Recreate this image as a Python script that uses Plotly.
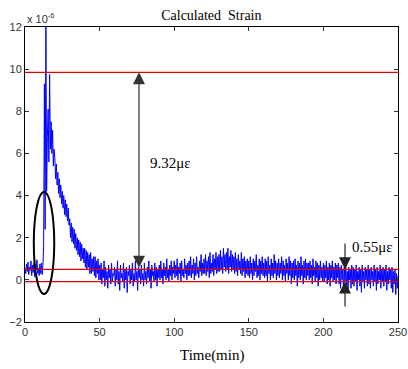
import numpy as np
import plotly.graph_objects as go

# time step 0.5 min, 0..250 min
t_start, t_step = 0.0, 0.5
strain = [
 0.55,0.30,0.75,0.40,0.85,0.25,0.60,0.45,0.90,0.20,0.70,0.35,0.80,0.15,0.65,0.50,0.95,0.30,0.55,0.20,
 0.75,0.30,0.80,0.25,0.70,1.60,9.30,2.40,12.60,4.20,6.80,8.10,5.60,9.75,6.20,7.50,6.00,7.10,5.40,6.20,
 5.8,4.8,5.5,4.5,5.1,4.1,4.8,3.9,4.5,3.6,4.2,3.4,4.0,3.1,3.8,3.0,3.6,2.8,3.4,2.6,
 2.9,2.0,2.7,1.8,2.5,1.7,2.4,1.5,2.2,1.4,2.0,1.2,1.9,1.1,1.8,0.9,1.7,1.0,1.5,0.8,
 1.5,0.6,1.4,0.5,1.3,0.6,1.2,0.3,1.3,0.3,1.0,0.4,1.1,0.2,1.1,0.1,0.9,0.3,1.0,0.0,
 0.7,0.0,0.8,-0.2,0.5,0.1,0.9,-0.3,0.6,0.0,0.4,-0.4,0.7,0.1,0.5,-0.2,0.8,-0.1,0.3,0.2,
 0.6,-0.3,0.5,0.0,0.9,-0.2,0.4,-0.5,0.7,0.1,0.3,-0.1,0.8,-0.4,0.5,0.0,0.6,-0.6,0.4,0.2,
 0.7,-0.2,0.5,0.0,0.8,-0.3,0.3,-0.1,0.9,0.0,0.4,-0.5,0.6,0.1,0.5,-0.2,0.7,0.0,0.3,-0.3,
 0.8,0.0,0.4,-0.2,0.6,0.1,0.9,-0.1,0.5,-0.4,0.7,0.2,0.4,-0.1,0.8,0.0,0.6,-0.3,0.5,0.1,
 0.7,0.0,0.9,0.1,0.5,-0.2,0.8,0.2,0.6,0.0,1.0,0.1,0.5,-0.1,0.7,0.2,0.9,0.0,0.6,0.3,
 0.9,0.1,0.7,0.2,1.0,0.0,0.6,0.3,0.8,-0.1,0.9,0.2,0.5,0.1,1.0,0.3,0.7,0.0,0.8,0.2,
 0.9,0.2,1.1,0.1,0.7,0.3,1.0,0.0,0.8,0.2,1.1,0.3,0.6,0.1,0.9,0.4,1.2,0.2,0.8,0.3,
 1.0,0.3,1.2,0.2,0.9,0.4,1.1,0.1,1.3,0.3,0.8,0.4,1.2,0.2,1.0,0.5,1.3,0.3,1.1,0.4,
 1.2,0.4,1.4,0.5,1.1,0.3,1.5,0.6,1.2,0.4,1.3,0.5,1.5,0.3,1.1,0.6,1.4,0.4,1.2,0.5,
 1.1,0.3,1.3,0.4,1.0,0.2,1.2,0.5,0.9,0.3,1.3,0.2,1.0,0.4,1.1,0.1,0.9,0.3,1.0,0.2,
 0.9,0.1,1.1,0.3,0.8,0.0,1.0,0.2,0.9,0.4,1.2,0.1,0.7,0.2,1.0,0.0,0.9,0.3,1.1,0.2,
 0.8,0.1,1.0,0.2,0.9,-0.1,1.1,0.3,0.7,0.0,1.0,0.2,0.8,0.1,1.2,0.3,0.9,0.0,0.8,0.2,
 1.0,0.1,0.8,0.3,1.1,0.0,0.9,0.2,0.7,-0.1,1.0,0.3,0.8,0.0,1.1,0.2,0.9,-0.2,0.8,0.1,
 0.9,0.0,1.0,0.2,0.7,-0.3,0.9,0.1,0.8,0.0,1.1,0.2,0.7,-0.2,0.9,0.1,1.0,0.0,0.8,0.2,
 0.8,0.0,0.9,0.1,0.7,-0.2,1.0,0.2,0.6,-0.1,0.9,0.1,0.8,-0.3,0.7,0.0,0.9,0.1,0.6,-0.1,
 0.8,-0.1,0.7,0.1,0.9,-0.2,0.6,0.0,0.8,-0.3,0.7,0.1,0.9,-0.1,0.6,0.0,0.8,-0.2,0.7,0.1,
 0.8,-0.2,0.6,-0.4,0.7,0.0,0.5,-0.5,0.6,-0.1,0.7,-0.3,0.4,-0.6,0.6,0.0,0.5,-0.4,0.7,-0.2,
 0.6,-0.3,0.5,-0.1,0.7,-0.5,0.4,0.0,0.6,-0.3,0.5,-0.6,0.7,-0.1,0.4,-0.4,0.6,0.0,0.5,-0.3,
 0.7,-0.2,0.5,-0.4,0.6,0.0,0.4,-0.3,0.7,-0.1,0.5,-0.5,0.6,-0.2,0.4,0.0,0.7,-0.4,0.5,-0.1,
 0.6,-0.3,0.5,-0.1,0.7,-0.5,0.4,-0.2,0.6,0.0,0.5,-0.4,0.6,-0.6,0.4,-0.2,0.5,-0.7,0.3,-0.4,
 0.2,
]
time_min = [t_start + i * t_step for i in range(len(strain))]

ref_levels = [9.85, 0.50, -0.08]
x_ticks = [0, 50, 100, 150, 200, 250]
y_ticks = [-2, 0, 2, 4, 6, 8, 10, 12]
ellipse_t = [5.9, 19.6]
ellipse_v = [-0.67, 4.17]
big_arrow_t = 76.4
small_arrow_t = 214.5
label_big = "9.32με"
label_small = "0.55με"

serif = "Liberation Serif, Times New Roman, serif"
sans = "Liberation Sans, Arial, sans-serif"

fig = go.Figure()
fig.add_trace(go.Scatter(x=time_min, y=strain, mode="lines",
                         line=dict(color="#0000ff", width=1), showlegend=False))

shapes = []
for lv in ref_levels:
    shapes.append(dict(type="line", xref="paper", x0=0, x1=1, yref="y", y0=lv, y1=lv,
                       line=dict(color="rgb(225,0,0)", width=1.3), layer="above"))
shapes.append(dict(type="circle", xref="x", yref="y", x0=ellipse_t[0], x1=ellipse_t[1],
                   y0=ellipse_v[0], y1=ellipse_v[1], line=dict(color="black", width=2)))

arrow_style = dict(showarrow=True, arrowhead=2, arrowsize=2.0, arrowwidth=1.2)
annotations = [
    dict(x=big_arrow_t, y=ref_levels[0], ax=big_arrow_t, ay=ref_levels[1], xref="x", yref="y",
         axref="x", ayref="y", text="", arrowside="end+start", arrowcolor="#333", **arrow_style),
    dict(x=small_arrow_t, y=ref_levels[1], ax=small_arrow_t, ay=1.8, xref="x", yref="y",
         axref="x", ayref="y", text="", arrowcolor="#222", **arrow_style),
    dict(x=small_arrow_t, y=ref_levels[2], ax=small_arrow_t, ay=-1.34, xref="x", yref="y",
         axref="x", ayref="y", text="", arrowcolor="#222", **arrow_style),
    dict(x=82.4, y=5.55, xref="x", yref="y", text=label_big, showarrow=False,
         xanchor="left", yanchor="middle", font=dict(family=serif, size=15, color="black")),
    dict(x=217.8, y=1.56, xref="x", yref="y", text=label_small, showarrow=False,
         xanchor="left", yanchor="middle", font=dict(family=serif, size=15, color="black")),
    dict(x=0, y=1.03, xref="paper", yref="paper", text="x 10<sup>-6</sup>", showarrow=False,
         xanchor="left", yanchor="middle", font=dict(family=sans, size=11, color="#333")),
    dict(x=0.5, y=-0.112, xref="paper", yref="paper", text="Time(min)", showarrow=False,
         xanchor="center", yanchor="middle", font=dict(family=serif, size=15, color="black")),
]

fig.update_layout(
    width=408, height=369,
    margin=dict(l=25, r=10, t=27, b=47, autoexpand=False),
    paper_bgcolor="white", plot_bgcolor="white",
    title=dict(text="Calculated  Strain", x=0.518, xanchor="center", yref="container",
               y=1 - 15 / 369, yanchor="middle",
               font=dict(family=serif, size=14, color="black")),
    shapes=shapes, annotations=annotations,
    xaxis=dict(range=[0, 250], tickvals=x_ticks, ticks="inside", ticklen=4,
               tickcolor="#333", showline=True, linecolor="black", linewidth=1,
               mirror="ticks", showgrid=False, zeroline=False, automargin=False,
               tickfont=dict(family=sans, size=11, color="#333")),
    yaxis=dict(range=[-2, 12], tickvals=y_ticks, ticks="inside", ticklen=4,
               tickcolor="#333", showline=True, linecolor="black", linewidth=1,
               mirror="ticks", showgrid=False, zeroline=False, automargin=False,
               tickfont=dict(family=sans, size=11, color="#333")),
)

fig.write_html("out.html")
